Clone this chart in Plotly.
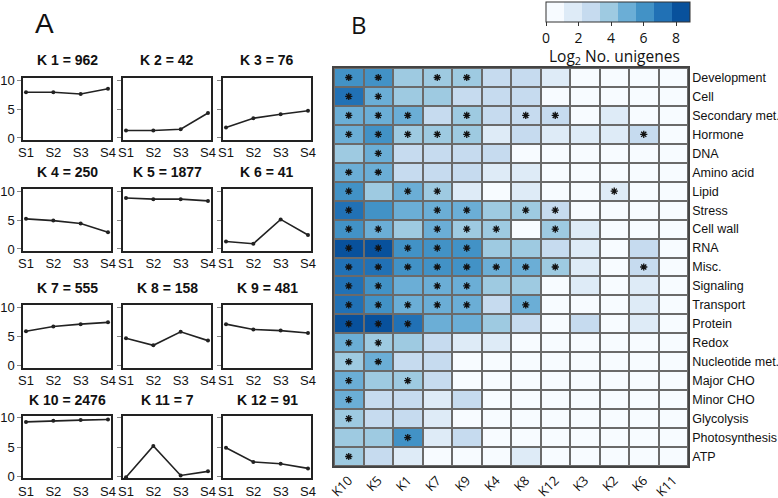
import plotly.graph_objects as go

W, H = 778, 498
def px(x): return x / W
def py(y): return 1 - y / H

# ---------------- Panel A data ----------------
stages = ["S1", "S2", "S3", "S4"]
cluster_labels = ["K 1", "K 2", "K 3", "K 4", "K 5", "K 6",
                  "K 7", "K 8", "K 9", "K 10", "K 11", "K 12"]
cluster_sizes = [962, 42, 76, 250, 1877, 41, 555, 158, 481, 2476, 7, 91]
k1 = [7.9, 7.9, 7.6, 8.5]
k2 = [1.3, 1.3, 1.5, 4.3]
k3 = [1.8, 3.4, 4.1, 4.7]
k4 = [5.2, 4.9, 4.4, 2.9]
k5 = [8.8, 8.6, 8.6, 8.3]
k6 = [1.3, 0.9, 5.1, 2.4]
k7 = [5.9, 6.7, 7.1, 7.4]
k8 = [4.7, 3.5, 5.8, 4.3]
k9 = [7.1, 6.2, 6.0, 5.6]
k10 = [9.3, 9.5, 9.6, 9.7]
k11 = [-0.1, 5.2, 0.2, 0.9]
k12 = [4.9, 2.5, 2.2, 1.4]
profiles = [k1, k2, k3, k4, k5, k6, k7, k8, k9, k10, k11, k12]
ytick_vals = [0, 5, 10]

# ---------------- Panel B data ----------------
heat_cols = ["K10", "K5", "K1", "K7", "K9", "K4", "K8", "K12", "K3", "K2", "K6", "K11"]
categories = ["Development", "Cell", "Secondary met.", "Hormone", "DNA", "Amino acid",
              "Lipid", "Stress", "Cell wall", "RNA", "Misc.", "Signaling", "Transport",
              "Protein", "Redox", "Nucleotide met.", "Major CHO", "Minor CHO",
              "Glycolysis", "Photosynthesis", "ATP"]
log2_counts = [
    [6.1, 6.1, 3.9, 3.9, 3.9, 2.8, 2.8, 1.7, 0.5, 0.5, 0.5, 0.5],
    [7.2, 5.0, 3.9, 3.9, 2.8, 2.8, 2.8, 0.5, 0.5, 0.5, 0.5, 0.5],
    [5.0, 5.0, 5.0, 2.8, 3.9, 2.8, 2.8, 2.8, 0.5, 1.7, 0.5, 0.5],
    [5.0, 6.1, 3.9, 3.9, 3.9, 1.7, 2.8, 1.7, 1.7, 1.7, 2.8, 0.5],
    [3.9, 5.0, 2.8, 2.8, 2.8, 2.8, 0.5, 0.5, 0.5, 0.5, 0.5, 0.5],
    [5.0, 5.0, 2.8, 2.8, 2.8, 1.7, 1.7, 0.5, 0.5, 0.5, 0.5, 0.5],
    [6.1, 3.9, 5.0, 3.9, 1.7, 0.5, 1.7, 0.5, 0.5, 1.7, 0.5, 0.5],
    [7.2, 6.1, 5.0, 5.0, 5.0, 3.9, 3.9, 2.8, 0.5, 0.5, 0.5, 0.5],
    [6.1, 5.0, 3.9, 5.0, 3.9, 3.9, 0.5, 3.9, 1.7, 0.5, 0.5, 0.5],
    [8.3, 8.3, 6.1, 6.1, 6.1, 3.9, 3.9, 2.8, 1.7, 0.5, 2.8, 0.5],
    [7.2, 7.2, 6.1, 6.1, 6.1, 5.0, 5.0, 3.9, 1.7, 0.5, 2.8, 0.5],
    [7.2, 6.1, 5.0, 5.0, 5.0, 3.9, 3.9, 0.5, 1.7, 0.5, 1.7, 0.5],
    [7.2, 6.1, 5.0, 5.0, 5.0, 2.8, 5.0, 0.5, 0.5, 0.5, 1.7, 0.5],
    [8.3, 8.3, 7.2, 5.0, 5.0, 3.9, 2.8, 0.5, 2.8, 0.5, 1.7, 0.5],
    [5.0, 3.9, 3.9, 2.8, 1.7, 1.7, 0.5, 0.5, 0.5, 0.5, 0.5, 0.5],
    [3.9, 5.0, 2.8, 2.8, 0.5, 0.5, 0.5, 0.5, 0.5, 0.5, 0.5, 0.5],
    [5.0, 3.9, 3.9, 2.8, 0.5, 0.5, 0.5, 0.5, 0.5, 0.5, 0.5, 0.5],
    [5.0, 2.8, 2.8, 1.7, 2.8, 0.5, 0.5, 0.5, 0.5, 0.5, 0.5, 0.5],
    [3.9, 2.8, 2.8, 1.7, 0.5, 0.5, 0.5, 0.5, 0.5, 0.5, 0.5, 0.5],
    [3.9, 3.9, 6.1, 1.7, 2.8, 0.5, 0.5, 0.5, 0.5, 0.5, 0.5, 0.5],
    [3.9, 2.8, 1.7, 0.5, 0.5, 0.5, 1.7, 0.5, 0.5, 0.5, 0.5, 0.5],
]
significant = [
    ["K10", "K5", "K7", "K9"],
    ["K10", "K5"],
    ["K10", "K5", "K1", "K9", "K8", "K12"],
    ["K10", "K5", "K1", "K7", "K9", "K6"],
    ["K5"],
    ["K10", "K5"],
    ["K10", "K1", "K7", "K2"],
    ["K10", "K7", "K9", "K8", "K12"],
    ["K10", "K5", "K7", "K9", "K4", "K12"],
    ["K10", "K5", "K1", "K7", "K9"],
    ["K10", "K5", "K1", "K7", "K9", "K4", "K8", "K12", "K6"],
    ["K10", "K5", "K7", "K9"],
    ["K10", "K5", "K1", "K7", "K9", "K8"],
    ["K10", "K5", "K1"],
    ["K10", "K5"],
    ["K10", "K5"],
    ["K10", "K1"],
    ["K10"],
    ["K10"],
    ["K1"],
    ["K10"],
]
cbar_ticks = [0, 2, 4, 6, 8]
blues = ["#f7fbff", "#deebf7", "#c6dbef", "#9ecae1", "#6baed6", "#4292c6", "#2171b5", "#08519c"]
zmax = 8.86

FONT = "Liberation Sans, Arial, sans-serif"
FONT2 = "Open Sans, sans-serif"

fig = go.Figure()
layout = dict(
    width=W, height=H, margin=dict(l=0, r=0, t=0, b=0, autoexpand=False),
    paper_bgcolor="white", plot_bgcolor="white",
    showlegend=False, template="none",
    font=dict(family=FONT, color="#111"),
)

# ---------------- Panel A: small multiples ----------------
col_x = [(23, 111), (123, 211), (223, 311)]
row_y = [(78.3, 139.7), (189.3, 250.7), (305.3, 367.7), (416.0, 478.4)]
title_y = [60, 172, 288, 400]
annotations = []
for i, prof in enumerate(profiles):
    r, c = divmod(i, 3)
    n = i + 1
    xa = "x" if n == 1 else f"x{n}"
    ya = "y" if n == 1 else f"y{n}"
    fig.add_trace(go.Scatter(
        x=stages, y=prof, mode="lines+markers", xaxis=xa, yaxis=ya,
        line=dict(color="#222", width=1.6), marker=dict(size=4, color="#222"),
        hoverinfo="skip"))
    x0, x1 = col_x[c]
    y0, y1 = row_y[r]
    layout["xaxis" if n == 1 else f"xaxis{n}"] = dict(
        domain=[px(x0), px(x1)], anchor=ya, range=[-0.11, 3.11],
        type="category", showgrid=False, zeroline=False,
        showline=True, mirror=True, linecolor="#222", linewidth=1.5,
        ticks="", tickfont=dict(size=13, family=FONT, color="#111"),
        automargin=False, fixedrange=True)
    layout["yaxis" if n == 1 else f"yaxis{n}"] = dict(
        domain=[py(y1), py(y0)], anchor=xa, range=[-0.3, 10.3],
        tickvals=ytick_vals, showticklabels=(c == 0),
        showgrid=False, zeroline=False,
        showline=True, mirror=True, linecolor="#222", linewidth=1.5,
        ticks="outside", ticklen=4, tickcolor="#888",
        tickfont=dict(size=13, family=FONT, color="#111"),
        automargin=False, fixedrange=True)
    annotations.append(dict(
        text=f"<b>{cluster_labels[i]} = {cluster_sizes[i]}</b>",
        x=px((x0 + x1) / 2), y=py(title_y[r]), xref="paper", yref="paper",
        showarrow=False, xanchor="center", yanchor="middle",
        font=dict(size=14, family=FONT, color="#111")))

annotations.append(dict(text="A", x=px(44), y=py(23), xref="paper", yref="paper",
                        showarrow=False, xanchor="center", yanchor="middle",
                        font=dict(size=28, family=FONT, color="#111")))
annotations.append(dict(text="B", x=px(359), y=py(25), xref="paper", yref="paper",
                        showarrow=False, xanchor="center", yanchor="middle",
                        font=dict(size=24, family=FONT2, color="#111")))
annotations.append(dict(text="Log<sub>2</sub> No. unigenes", x=px(614), y=py(57),
                        xref="paper", yref="paper", showarrow=False,
                        xanchor="center", yanchor="middle",
                        font=dict(size=15.5, family=FONT2, color="#111")))

# ---------------- Panel B: heatmap ----------------
colorscale = []
for k, col in enumerate(blues):
    colorscale.append([k / len(blues), col])
    colorscale.append([(k + 1) / len(blues), col])

hx0, hx1, hy0, hy1 = 334, 688, 68, 466
fig.add_trace(go.Heatmap(
    z=log2_counts, x=heat_cols, y=categories, xaxis="x13", yaxis="y13",
    colorscale=colorscale, zmin=0, zmax=zmax, xgap=2, ygap=2,
    hoverinfo="skip",
    colorbar=dict(
        orientation="h", x=px(618), xanchor="center", y=py(2), yanchor="top",
        len=144 / W, lenmode="fraction", thickness=20,
        outlinecolor="#333", outlinewidth=1,
        tickvals=cbar_ticks, ticks="outside", ticklen=4, tickcolor="#333",
        tickfont=dict(size=14, family=FONT2, color="#111"),
        xpad=0, ypad=0)))

star_x, star_y = [], []
for cat, cols in zip(categories, significant):
    for cname in cols:
        star_x.append(cname)
        star_y.append(cat)
fig.add_trace(go.Scatter(
    x=star_x, y=star_y, mode="markers", xaxis="x13", yaxis="y13",
    marker=dict(symbol="asterisk-open", size=6, color="#111",
                line=dict(width=1.3, color="#111")),
    hoverinfo="skip"))

layout["xaxis13"] = dict(
    domain=[px(hx0), px(hx1)], anchor="y13", type="category",
    categoryorder="array", categoryarray=heat_cols, range=[-0.5, len(heat_cols) - 0.5],
    showgrid=False, zeroline=False, showline=True, mirror=True,
    linecolor="#444", linewidth=1.5, ticks="", tickangle=-45,
    tickfont=dict(size=13, family=FONT2, color="#111"),
    automargin=False, fixedrange=True)
layout["yaxis13"] = dict(
    domain=[py(hy1), py(hy0)], anchor="x13", type="category",
    categoryorder="array", categoryarray=categories,
    range=[len(categories) - 0.5, -0.5],
    side="right", showgrid=False, zeroline=False, showline=True, mirror=True,
    linecolor="#444", linewidth=1.5, ticks="", ticklabelstandoff=0,
    tickfont=dict(size=12.5, family=FONT, color="#111"),
    automargin=False, fixedrange=True)

layout["shapes"] = [dict(
    type="rect", xref="paper", yref="paper", layer="below",
    x0=px(hx0), x1=px(hx1), y0=py(hy1), y1=py(hy0),
    fillcolor="#6a6a6a", line=dict(width=0))]
layout["annotations"] = annotations

fig.update_layout(**layout)
fig.write_html("out.html", config={"displayModeBar": False},
               post_script="document.body.style.margin='0';document.body.style.padding='0';")
